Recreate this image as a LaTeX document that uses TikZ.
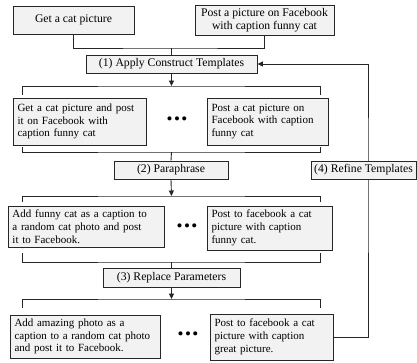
\documentclass[tikz,border=0pt]{standalone}
\usepackage{fontspec}
\setmainfont{Liberation Serif}
\usepackage{xcolor}
\usetikzlibrary{arrows.meta,positioning,calc}
\definecolor{boxfill}{HTML}{F2F2F2}
\definecolor{linegray}{HTML}{262626}

\begin{document}
\begin{tikzpicture}[x=1pt, y=-1pt, font=\fontsize{11}{12.8}\selectfont]
  % Define styles
  \tikzstyle{stepbox} = [rectangle, draw=linegray, fill=boxfill, line width=0.9pt, inner xsep=4.5pt, inner ysep=0pt, align=left]
  \tikzstyle{opbox} = [stepbox, align=center, inner xsep=0pt, font=\fontsize{11.7}{13}\selectfont]
  \tikzstyle{link} = [draw=linegray, line width=0.9pt]
  \tikzstyle{arrow} = [link, -{Triangle[length=5.5pt, width=5pt]}]
  \tikzstyle{dots} = [font=\fontsize{17}{17}\selectfont, inner sep=0pt]

  \useasboundingbox (0,0) rectangle (417,362);

  % Input sentences
  \node [opbox, minimum width=121pt, minimum height=28pt] (cat) at (73.5,20) {Get a cat picture};
  \node [opbox, minimum width=139pt, minimum height=30pt] (post) at (264.5,20) {Post a picture on Facebook\\with caption funny cat};

  % Steps
  \node [opbox, minimum width=171pt, minimum height=18pt] (apply) at (171.5,64) {(1) Apply Construct Templates};
  \node [opbox, minimum width=114pt, minimum height=18pt] (para) at (171,170) {(2) Paraphrase};
  \node [opbox, minimum width=137pt, minimum height=19pt] (repl) at (171.5,277.5) {(3) Replace Parameters};

  % Generated sentences
  \node [stepbox, text width=124pt, minimum height=47pt] (tmplA) at (79.5,121.5) {Get a cat picture and post\\it on Facebook with\\caption funny cat};
  \node [stepbox, text width=112pt, minimum height=47pt] (tmplB) at (267.5,121.5) {Post a cat picture on\\Facebook with caption\\funny cat};
  \node [dots] (dotsA) at (177,121) {\textbullet\kern1.5pt\textbullet\kern1.5pt\textbullet};

  \node [stepbox, text width=147pt, minimum height=41pt] (paraA) at (86,226.5) {Add funny cat as a caption to\\a random cat photo and post\\it to Facebook.};
  \node [stepbox, text width=116pt, minimum height=44pt] (paraB) at (269.5,228) {Post to facebook a cat\\picture with caption\\funny cat.};
  \node [dots] (dotsB) at (187,228) {\textbullet\kern1.5pt\textbullet\kern1.5pt\textbullet};

  \node [stepbox, text width=141pt, minimum height=43pt] (replA) at (85,336.5) {Add amazing photo as a\\caption to a random cat photo\\and post it to Facebook.};
  \node [stepbox, text width=114pt, minimum height=46pt] (replB) at (271.5,337) {Post to facebook a cat\\picture with caption\\great picture.};
  \node [dots] (dotsC) at (188,336) {\textbullet\kern1.5pt\textbullet\kern1.5pt\textbullet};

  % Brackets
  \foreach \n/\yl/\yt in {1/86/95, 2/152/147, 3/196/202, 4/262/253, 5/299/308} {
    \coordinate (fan\n) at (171.5,\yl);
    \coordinate (fan\n l) at (22,\yt);
    \coordinate (fan\n r) at (320,\yt);
    \draw [link] (fan\n l) |- (fan\n) -| (fan\n r);
  }

  % Workflow arrows
  \coordinate (join) at (171.5,48);
  \draw [link] (cat.south) |- (join) -| (post.south);
  \draw [link] (join) -- (apply.north);
  \draw [arrow] (apply.south) -- (fan1);
  \draw [link] (fan2) -- (para.north);
  \draw [arrow] (para.south) -- (fan3);
  \draw [link] (fan4) -- (repl.north);
  \draw [arrow] (repl.south) -- (fan5);

  % Feedback loop
  \coordinate (loop) at (368,170);
  \draw [arrow] (replB.east) -| (loop) |- (apply.east);
  \node [opbox, minimum width=105pt, minimum height=18pt] (refine) at (363.5,170) {(4) Refine Templates};

\end{tikzpicture}
\end{document}
